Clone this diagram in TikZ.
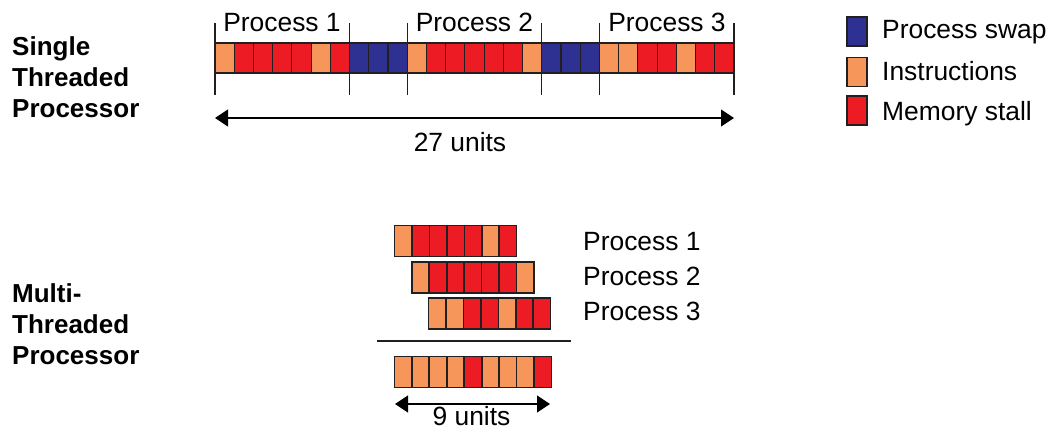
\documentclass[tikz,border=0pt]{standalone}
\usepackage{fontspec}
\setmainfont{Liberation Sans}
\usetikzlibrary{arrows.meta}
\definecolor{cW}{RGB}{46,49,146}
\definecolor{cI}{RGB}{247,150,90}
\definecolor{cS}{RGB}{237,28,36}
\definecolor{edgec}{RGB}{35,31,32}
\begin{document}
\begin{tikzpicture}[x=1pt,y=-1pt,
  topcell/.style={draw=edgec,line width=1.1pt,inner sep=0pt,minimum width=19.22pt,minimum height=30pt},
  mtcell/.style={draw=edgec,line width=1.6pt,inner sep=0pt,minimum width=17.45pt,minimum height=31pt},
  legbox/.style={draw=edgec,line width=1.1pt,inner sep=0pt,minimum width=20pt,minimum height=29pt},
  txt/.style={font=\fontsize{26.4}{30}\selectfont,inner sep=0pt,anchor=base},
  btxt/.style={font=\bfseries\fontsize{26}{30}\selectfont,inner sep=0pt,anchor=base west},
  tick/.style={line width=1.1pt,draw=edgec},
  dim/.style={line width=1.1pt,{Triangle[length=13pt,width=17pt]}-{Triangle[length=13pt,width=17pt]}}
]
\useasboundingbox (0,0) rectangle (1050,429);

% ---- left labels
\node[btxt] (s1) at (12,55) {Single};
\node[btxt] (s2) at (12,86.5) {Threaded};
\node[btxt] (s3) at (12,117) {Processor};
\node[btxt] (m1) at (12,302) {Multi-};
\node[btxt] (m2) at (12,333.5) {Threaded};
\node[btxt] (m3) at (12,364.5) {Processor};

% ---- single threaded bar
\foreach \c [count=\i] in {I,S,S,S,S,I,S,W,W,W,I,S,S,S,S,S,I,W,W,W,I,I,S,S,I,S,S}
  \node[topcell,fill=c\c] (t\i) at ({215+(\i-0.5)*19.22},58) {};

% ticks
\foreach \k/\xx in {a/215,b/349.5,c/407.2,d/541.5,e/599.2,f/734}{
  \coordinate (tk\k1) at (\xx,23);
  \coordinate (tk\k2) at (\xx,95);
  \draw[tick] (tk\k1) -- (tk\k2);
}
\node[txt] (p1) at (282,31) {Process 1};
\node[txt] (p2) at (474.5,31) {Process 2};
\node[txt] (p3) at (667,31) {Process 3};

\coordinate (da) at (215,118);
\coordinate (db) at (734,118);
\draw[dim] (da) -- (db);
\node[txt] (u27) at (460,151) {27 units};

% ---- multi threaded rows
\foreach \c [count=\i] in {I,S,S,S,S,I,S}
  \node[mtcell,fill=c\c] (r1c\i) at ({394.5+(\i-0.5)*17.45},241) {};
\foreach \c [count=\i] in {I,S,S,S,S,S,I}
  \node[mtcell,fill=c\c] (r2c\i) at ({411.8+(\i-0.5)*17.45},277.3) {};
\foreach \c [count=\i] in {I,I,S,S,I,S,S}
  \node[mtcell,fill=c\c] (r3c\i) at ({428.5+(\i-0.5)*17.45},313.5) {};

\node[txt,anchor=base west] (q1) at (583,250.5) {Process 1};
\node[txt,anchor=base west] (q2) at (583,285.5) {Process 2};
\node[txt,anchor=base west] (q3) at (583,320.5) {Process 3};

\coordinate (la) at (377,341);
\coordinate (lb) at (571,341);
\draw[line width=1.1pt,draw=edgec] (la) -- (lb);

\foreach \c [count=\i] in {I,I,I,I,S,I,I,I,S}
  \node[mtcell,fill=c\c] (bc\i) at ({394.3+(\i-0.5)*17.48},372) {};

\coordinate (ea) at (395,404);
\coordinate (eb) at (550,404);
\draw[dim] (ea) -- (eb);
\node[txt] (u9) at (471.5,425) {9 units};

% ---- legend
\node[legbox,fill=cW] (lg1) at (857,31.5) {};
\node[legbox,fill=cI] (lg2) at (857,72) {};
\node[legbox,fill=cS] (lg3) at (857,110.5) {};
\node[txt,anchor=base west] (lt1) at (882,38.5) {Process swap};
\node[txt,anchor=base west] (lt2) at (882,80.5) {Instructions};
\node[txt,anchor=base west] (lt3) at (882,120) {Memory stall};
\end{tikzpicture}
\end{document}
